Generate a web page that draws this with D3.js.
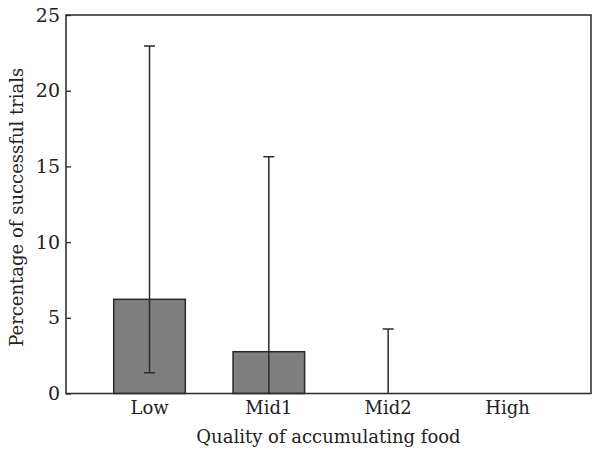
<!DOCTYPE html>
<html>
<head>
<meta charset="utf-8">
<script src="https://cdn.jsdelivr.net/npm/d3@7"></script>
<style>
body { margin: 0; background: #fff; }
text { font-family: "DejaVu Serif", serif; fill: #222; }
</style>
</head>
<body>
<svg id="chart" width="600" height="458"></svg>
<script>
const categories = ["Low", "Mid1", "Mid2", "High"];
const means = [6.22, 2.76, 0, 0];
const lowerErr = [1.37, 0, 0, 0];
const upperErr = [22.95, 15.64, 4.26, 0];
const yTicks = [0, 5, 10, 15, 20, 25];
const xTitle = "Quality of accumulating food";
const yTitle = "Percentage of successful trials";

const svg = d3.select("#chart");
const mLeft = 66, mRight = 591, mTop = 15, mBottom = 393.5;

const x = d3.scaleBand().domain(categories).range([mLeft, mRight])
  .paddingInner(0.4).paddingOuter(0.4);
const y = d3.scaleLinear().domain([0, 25]).range([mBottom, mTop]);

// bars
svg.append("g").selectAll("rect").data(categories).join("rect")
  .attr("x", d => x(d))
  .attr("y", (d, i) => y(means[i]))
  .attr("width", x.bandwidth())
  .attr("height", (d, i) => y(0) - y(means[i]))
  .attr("fill", "#7f7f7f")
  .attr("stroke", "#2a2a2a")
  .attr("stroke-width", 1.5)
  .style("display", (d, i) => means[i] > 0 ? null : "none");

// error bars
const eg = svg.append("g").attr("stroke", "#2a2a2a").attr("stroke-width", 1.5);
categories.forEach((c, i) => {
  if (upperErr[i] <= 0) return;
  const cx = x(c) + x.bandwidth() / 2;
  eg.append("line").attr("x1", cx).attr("x2", cx)
    .attr("y1", y(lowerErr[i])).attr("y2", y(upperErr[i]));
  eg.append("line").attr("x1", cx - 5.5).attr("x2", cx + 5.5)
    .attr("y1", y(upperErr[i])).attr("y2", y(upperErr[i]));
  if (lowerErr[i] > 0) {
    eg.append("line").attr("x1", cx - 5.5).attr("x2", cx + 5.5)
      .attr("y1", y(lowerErr[i])).attr("y2", y(lowerErr[i]));
  }
});

// frame
svg.append("rect").attr("x", mLeft).attr("y", mTop)
  .attr("width", mRight - mLeft).attr("height", mBottom - mTop)
  .attr("fill", "none").attr("stroke", "#2a2a2a").attr("stroke-width", 1.5);

// y axis
const yAxis = svg.append("g").attr("transform", `translate(${mLeft},0)`)
  .call(d3.axisLeft(y).tickValues(yTicks).tickSizeInner(-5).tickSizeOuter(0).tickPadding(6));
yAxis.select(".domain").remove();
yAxis.selectAll(".tick line").attr("stroke", "#2a2a2a").attr("stroke-width", 1.3);
yAxis.selectAll("text").attr("font-size", 19).style("font-family", "DejaVu Serif, serif").attr("fill", "#222");

// x axis
const xAxis = svg.append("g").attr("transform", `translate(0,${mBottom})`)
  .call(d3.axisBottom(x).tickSize(0).tickPadding(8));
xAxis.select(".domain").remove();
xAxis.selectAll("text").attr("font-size", 18).style("font-family", "DejaVu Serif, serif").attr("fill", "#222");

// titles
svg.append("text").attr("x", (mLeft + mRight) / 2).attr("y", 443)
  .attr("text-anchor", "middle").attr("font-size", 18).text(xTitle);
svg.append("text").attr("transform", `translate(23,${(mTop + mBottom) / 2 + 3}) rotate(-90)`)
  .attr("text-anchor", "middle").attr("font-size", 18).text(yTitle);
</script>
</body>
</html>
